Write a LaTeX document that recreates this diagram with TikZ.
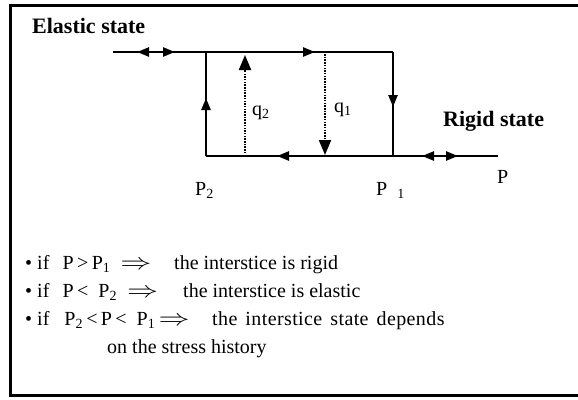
\documentclass[tikz,border=0pt]{standalone}
\usepackage{fontspec}
\setmainfont{Liberation Serif}
\usetikzlibrary{arrows.meta,positioning,decorations.markings}

\newcommand{\thenarrow}{\scalebox{1.5}[1.1]{$\Rightarrow$}}

\begin{document}
\begin{tikzpicture}[
  x=1pt, y=-1pt,
  >={Triangle[length=12pt,width=9pt]},
  every node/.style={font=\fontsize{20}{24}\selectfont, inner sep=0pt},
  state/.style={font=\fontsize{22}{26}\selectfont\bfseries, anchor=base west},
  rule/.style={anchor=base west},
  loopline/.style={line width=2.4pt},
  probe/.style={line width=2pt, dash pattern=on 1.5pt off 1.2pt,
                -{Triangle[length=15pt,width=12pt]}},
  fwd/.style={postaction={decorate, decoration={markings,
              mark=at position #1 with {\arrow{>}}}}},
  bwd/.style={postaction={decorate, decoration={markings,
              mark=at position #1 with {\arrowreversed{>}}}}},
  frame/.style={line width=3pt},
]
\useasboundingbox (0,0) rectangle (578,399);
\draw[frame] (578,5) -- (10,5) -- (10,395) -- (578,395);

% hysteresis loop
\coordinate (eIn)  at (113,52);
\coordinate (A)    at (206,52);
\coordinate (B)    at (393,52);
\coordinate (C)    at (393,156);
\coordinate (D)    at (206,156);
\coordinate (rOut) at (498,156);

\draw[loopline, bwd=24pt, fwd=62pt] (eIn) -- (A);
\draw[loopline, fwd=109pt] (A) -- (B);
\draw[loopline, fwd=55pt] (B) -- (C);
\draw[loopline, fwd=116pt] (C) -- (D);
\draw[loopline, fwd=58pt] (D) -- (A);
\draw[loopline, bwd=29pt, fwd=65pt] (C) -- (rOut);

% jumps
\coordinate (q2foot) at (245,156);
\coordinate (q2head) at (245,55);
\coordinate (q1top)  at (325,54);
\coordinate (q1head) at (325,155);
\draw[probe] (q2foot) -- (q2head);
\draw[probe] (q1top) -- (q1head);
\node[anchor=west] (q2) at (252,113) {q\textsubscript{2}};
\node[anchor=west] (q1) at (334,110) {q\textsubscript{1}};

\node[state] (elastic) at (32,33) {Elastic state};
\node[state] (rigid) at (443,126) {Rigid state};

\node[anchor=base west] (P2) at (195,195) {P\textsubscript{2}};
\node[anchor=base west] (P1) at (376,195) {P\hspace{10pt}\textsubscript{1}};
\node[anchor=base west] (P) at (497,183) {P};

% conditions
\node[rule] (cond1) at (25,269)
  {\textbullet\ if~\, P\,>\,P\textsubscript{1}~~\thenarrow};
\node[rule] (then1) at (174,269) {the interstice is rigid};
\node[rule] (cond2) at (25,297)
  {\textbullet\ if~\, P\,<~~P\textsubscript{2}~~\thenarrow};
\node[rule] (then2) at (183,297) {the interstice is elastic};
\node[rule] (cond3) at (25,325)
  {\textbullet\ if~~ P\textsubscript{2}\,<\,P\,<~~P\textsubscript{1}\,\thenarrow};
\node[rule] (then3) at (212,325)
  {\addfontfeature{LetterSpace=2}\spaceskip=8pt the interstice state depends};
\node[rule] (rule4) at (107,353) {on the stress history};
\end{tikzpicture}
\end{document}
